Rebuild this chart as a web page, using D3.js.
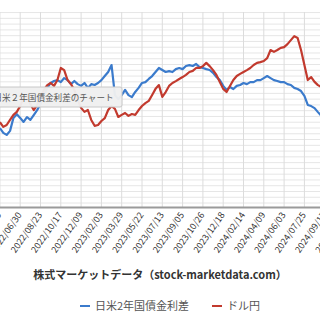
<!DOCTYPE html>
<html>
<head>
<meta charset="utf-8">
<script src="https://cdn.jsdelivr.net/npm/d3@7"></script>
<style>
body{margin:0;background:#fff;}
svg{display:block;font-family:"Noto Sans CJK JP","Noto Sans",sans-serif;}
</style>
</head>
<body>
<svg width="320" height="320"></svg>
<script>
// category axis labels, one every 6 points
var tickLabels = ["2022/05/09","2022/06/30","2022/08/23","2022/10/17","2022/12/09","2023/02/03","2023/03/29",
	"2023/05/22","2023/07/13","2023/09/05","2023/10/26","2023/12/18","2024/02/14","2024/04/09",
	"2024/06/03","2024/07/25","2024/09/17","2024/11/08"];
var pointsPerTick = 6;

// 日米2年国債金利差 (%)
var spread = [2.80,2.63,2.56,2.70,3.15,3.28,3.15,3.01,3.18,3.08,3.25,3.42,3.63,3.94,4.19,4.36,4.43,4.46,4.39,4.53,
	4.46,4.32,4.43,4.32,4.26,4.36,4.19,4.32,4.29,4.36,4.46,4.60,4.74,4.98,3.94,3.80,3.94,4.12,3.94,3.87,
	4.05,4.19,4.36,4.39,4.50,4.60,4.74,4.88,4.81,4.74,4.77,4.74,4.84,4.88,4.84,4.95,4.98,4.95,5.02,4.91,
	4.88,4.84,4.81,4.71,4.57,4.46,4.26,4.12,4.22,4.15,4.26,4.29,4.36,4.32,4.39,4.39,4.46,4.46,4.53,4.60,
	4.53,4.46,4.43,4.39,4.39,4.32,4.29,4.19,4.15,4.08,3.91,3.60,3.56,3.49,3.35,3.22];

// ドル円
var usdjpy = [129.2,127.4,128.1,130.0,131.9,133.0,135.2,138.2,138.9,136.0,133.7,135.6,138.2,141.2,143.0,143.8,142.7,144.9,149.4,148.6,
	144.9,143.4,141.2,137.5,134.5,133.0,133.7,130.0,127.8,128.1,129.6,130.7,133.7,135.2,134.1,131.1,131.9,132.6,131.5,132.2,
	131.9,133.7,135.2,136.3,137.1,139.3,141.6,143.0,138.6,140.4,142.7,143.8,144.5,145.3,146.0,146.8,147.9,148.3,149.4,149.4,
	150.1,151.3,150.1,148.6,146.8,144.2,141.6,140.4,142.7,144.9,146.4,147.2,147.9,148.6,149.4,150.5,151.3,151.6,152.0,153.1,
	156.1,155.4,156.1,156.9,157.2,158.3,159.8,161.3,160.6,156.1,150.5,144.9,146.0,144.2,143.0,142.3];

var seriesNames = ["日米2年国債金利差","ドル円"];
var seriesColors = ["#3b7bcc","#c23a2e"];

var Chart = (function(){
	var svg, x, ySpread, yYen;
	var plotTop = 12, plotBottom = 207.5;

	var setup = function(){
		svg = d3.select("svg");
		x = d3.scaleLinear()
			.domain([0,(tickLabels.length-1)*pointsPerTick])
			.range([-0.1,-0.1+(tickLabels.length-1)*20.3]);
		ySpread = d3.scaleLinear().domain([0.045,6.82]).range([plotBottom,plotTop]);
		yYen = d3.scaleLinear().domain([97.3,170.3]).range([plotBottom,plotTop]);
	}

	var drawGrid = function(){
		var grid = svg.append("g");
		grid.selectAll("line.h")
			.data(d3.range(0.2,6.81,0.2))
			.enter().append("line")
			.attr("class","h")
			.attr("x1",0).attr("x2",320)
			.attr("y1",function(d){return ySpread(d);})
			.attr("y2",function(d){return ySpread(d);})
			.attr("stroke","#e6e6e6")
			.attr("stroke-width",1);
		grid.selectAll("line.v")
			.data(tickLabels)
			.enter().append("line")
			.attr("class","v")
			.attr("x1",function(d,i){return x(i*pointsPerTick);})
			.attr("x2",function(d,i){return x(i*pointsPerTick);})
			.attr("y1",plotTop).attr("y2",plotBottom)
			.attr("stroke","#dcdcdc")
			.attr("stroke-width",1);
		svg.append("line")
			.attr("x1",0).attr("x2",320)
			.attr("y1",plotBottom).attr("y2",plotBottom)
			.attr("stroke","#9a9a9a")
			.attr("stroke-width",2);
	}

	var drawLines = function(){
		svg.append("clipPath").attr("id","plot")
			.append("rect").attr("x",-10).attr("y",plotTop).attr("width",340).attr("height",plotBottom-plotTop);
		var g = svg.append("g").attr("clip-path","url(#plot)");
		var lineSpread = d3.line()
			.x(function(d,i){return x(i);})
			.y(function(d){return ySpread(d);});
		var lineYen = d3.line()
			.x(function(d,i){return x(i);})
			.y(function(d){return yYen(d);});
		g.append("path")
			.attr("d",lineSpread(spread))
			.attr("fill","none")
			.attr("stroke",seriesColors[0])
			.attr("stroke-width",2.2)
			.attr("stroke-linejoin","round");
		g.append("path")
			.attr("d",lineYen(usdjpy))
			.attr("fill","none")
			.attr("stroke",seriesColors[1])
			.attr("stroke-width",2.2)
			.attr("stroke-linejoin","round");
	}

	var drawAxis = function(){
		svg.append("g").selectAll("text")
			.data(tickLabels)
			.enter().append("text")
			.attr("transform",function(d,i){return "translate("+(x(i*pointsPerTick)+2)+",215) rotate(-55)";})
			.attr("text-anchor","end")
			.attr("font-size",9)
			.attr("fill","#333")
			.text(function(d){return d;});
		svg.append("text")
			.attr("x",160).attr("y",279)
			.attr("text-anchor","middle")
			.attr("font-size",11)
			.attr("font-weight","bold")
			.attr("fill","#333")
			.text("株式マーケットデータ（stock-marketdata.com）");
	}

	var drawLegend = function(){
		var pos = [80,212];
		var leg = svg.append("g").selectAll("g")
			.data(seriesNames)
			.enter().append("g")
			.attr("transform",function(d,i){return "translate("+pos[i]+",306)";});
		leg.append("line")
			.attr("x1",0).attr("x2",10).attr("y1",0).attr("y2",0)
			.attr("stroke",function(d,i){return seriesColors[i];})
			.attr("stroke-width",2);
		leg.append("text")
			.attr("x",15).attr("y",4)
			.attr("font-size",11)
			.attr("fill","#555")
			.text(function(d){return d;});
	}

	var drawTooltip = function(){
		var tip = svg.append("g");
		tip.append("rect")
			.attr("x",-20).attr("y",87).attr("width",142).attr("height",20)
			.attr("rx",2)
			.attr("fill","#efefef")
			.attr("fill-opacity",0.96)
			.attr("stroke","#c8c8c8");
		tip.append("text")
			.attr("x",-6.6).attr("y",100.5)
			.attr("font-size",8.6)
			.attr("fill","#555")
			.text("日米２年国債金利差のチャート");
	}

	return {
		render : function(){
			setup();
			drawGrid();
			drawLines();
			drawAxis();
			drawLegend();
			drawTooltip();
		}
	}
})();

Chart.render();
</script>
</body>
</html>
